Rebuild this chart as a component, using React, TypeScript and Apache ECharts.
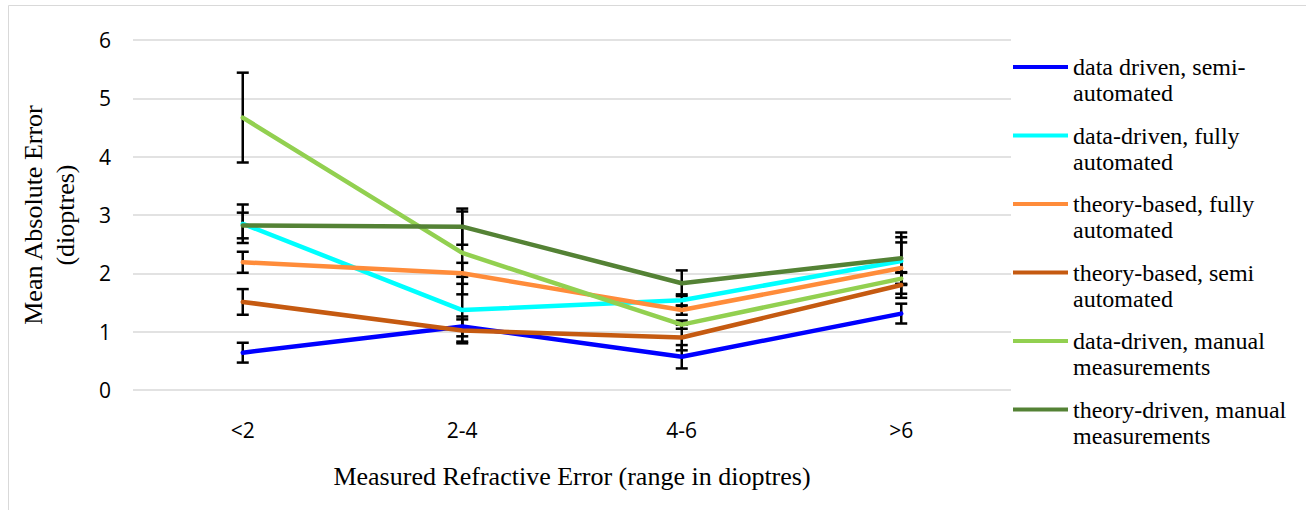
import React, { useEffect, useRef } from 'react';
import * as echarts from 'echarts';

const categories = ['<2', '2-4', '4-6', '>6'];

const seriesNames = [
  'data driven, semi-automated',
  'data-driven, fully automated',
  'theory-based, fully automated',
  'theory-based, semi automated',
  'data-driven, manual measurements',
  'theory-driven, manual measurements',
];

const legendLabels = [
  'data driven, semi-\nautomated',
  'data-driven, fully\nautomated',
  'theory-based, fully\nautomated',
  'theory-based, semi\nautomated',
  'data-driven, manual\nmeasurements',
  'theory-driven, manual\nmeasurements',
];

const dataDrivenSemi = [0.64, 1.09, 0.57, 1.31];
const dataDrivenSemiErr = [0.17, 0.17, 0.2, 0.17];
const dataDrivenFully = [2.85, 1.37, 1.54, 2.21];
const dataDrivenFullyErr = [0.33, 0.57, 0.1, 0.41];
const theoryBasedFully = [2.19, 2.0, 1.37, 2.09];
const theoryBasedFullyErr = [0.18, 0.18, 0.08, 0.44];
const theoryBasedSemi = [1.51, 1.02, 0.9, 1.8];
const theoryBasedSemiErr = [0.22, 0.19, 0.22, 0.22];
const dataDrivenManual = [4.67, 2.35, 1.12, 1.91];
const dataDrivenManualErr = [0.77, 0.71, 0.07, 0.1];
const theoryDrivenManual = [2.82, 2.8, 1.83, 2.26];
const theoryDrivenManualErr = [0.22, 0.31, 0.22, 0.44];

const seriesValues = [
  dataDrivenSemi,
  dataDrivenFully,
  theoryBasedFully,
  theoryBasedSemi,
  dataDrivenManual,
  theoryDrivenManual,
];
const seriesErrors = [
  dataDrivenSemiErr,
  dataDrivenFullyErr,
  theoryBasedFullyErr,
  theoryBasedSemiErr,
  dataDrivenManualErr,
  theoryDrivenManualErr,
];

const seriesColors = ['#0000FF', '#00FFFF', '#FF8C3A', '#C55A11', '#92D050', '#548235'];

export default function App() {
  const ref = useRef<HTMLDivElement>(null);

  useEffect(() => {
    if (!ref.current) return;
    const chart = echarts.init(ref.current, undefined, { renderer: 'svg' });

    const lineSeries = seriesNames.map((name, i) => ({
      name,
      type: 'line',
      data: seriesValues[i],
      showSymbol: false,
      symbol: 'none',
      z: 3,
      lineStyle: { color: seriesColors[i], width: 4.5, cap: 'round', join: 'round' },
      itemStyle: { color: seriesColors[i] },
    }));

    const errorSeries = seriesNames.map((name, i) => ({
      name: name + ' error',
      type: 'custom',
      z: 2,
      silent: true,
      encode: { x: 0, y: [1, 2] },
      data: seriesValues[i].map((v, j) => [j, v - seriesErrors[i][j], v + seriesErrors[i][j]]),
      renderItem: (params: any, api: any) => {
        const x = api.value(0);
        const hi = api.coord([x, api.value(2)]);
        const lo = api.coord([x, api.value(1)]);
        const w = 6;
        const style = { stroke: '#000', lineWidth: 2.5, fill: null };
        return {
          type: 'group',
          children: [
            { type: 'line', shape: { x1: hi[0], y1: hi[1], x2: lo[0], y2: lo[1] }, style },
            { type: 'line', shape: { x1: hi[0] - w, y1: hi[1], x2: hi[0] + w, y2: hi[1] }, style },
            { type: 'line', shape: { x1: lo[0] - w, y1: lo[1], x2: lo[0] + w, y2: lo[1] }, style },
          ],
        };
      },
    }));

    chart.setOption({
      animation: false,
      backgroundColor: '#ffffff',
      graphic: [
        {
          type: 'rect',
          shape: { x: 8.5, y: 5.5, width: 1310, height: 520 },
          style: { fill: 'none', stroke: '#d9d9d9', lineWidth: 1 },
          silent: true,
          z: -1,
        },
      ],
      grid: { left: 133, right: 295, top: 40, bottom: 120, containLabel: false },
      legend: {
        data: seriesNames,
        orient: 'vertical',
        left: 1013,
        top: 54,
        padding: 0,
        itemWidth: 55,
        itemHeight: 30,
        itemGap: 16.5,
        icon: 'path://M0,0H55V4H0Z M0,29.9H0.1V30H0Z',
        itemStyle: { borderWidth: 0 },
        formatter: (name: string) => legendLabels[seriesNames.indexOf(name)],
        textStyle: {
          fontFamily: 'Liberation Serif',
          fontSize: 24,
          lineHeight: 26,
          color: '#000',
        },
      },
      xAxis: {
        type: 'category',
        data: categories,
        boundaryGap: true,
        axisLine: { show: false },
        axisTick: { show: false },
        axisLabel: { fontFamily: 'Open Sans', fontSize: 21, color: '#000', margin: 29 },
        name: 'Measured Refractive Error (range in dioptres)',
        nameLocation: 'middle',
        nameGap: 73,
        nameTextStyle: { fontFamily: 'Liberation Serif', fontSize: 26, color: '#000' },
      },
      yAxis: {
        type: 'value',
        min: 0,
        max: 6,
        interval: 1,
        axisLine: { show: false },
        axisTick: { show: false },
        axisLabel: { fontFamily: 'Open Sans', fontSize: 21, color: '#000', margin: 22 },
        splitLine: { lineStyle: { color: '#d9d9d9', width: 1.5 } },
        name: 'Mean Absolute Error\n(dioptres)',
        nameLocation: 'middle',
        nameGap: 52,
        nameTextStyle: { fontFamily: 'Liberation Serif', fontSize: 26, lineHeight: 32, color: '#000' },
      },
      series: [...errorSeries, ...lineSeries],
    });

    return () => chart.dispose();
  }, []);

  return (
    <div
      ref={ref}
      style={{ position: 'absolute', left: 0, top: 0, width: 1306, height: 510, background: '#fff' }}
    />
  );
}
